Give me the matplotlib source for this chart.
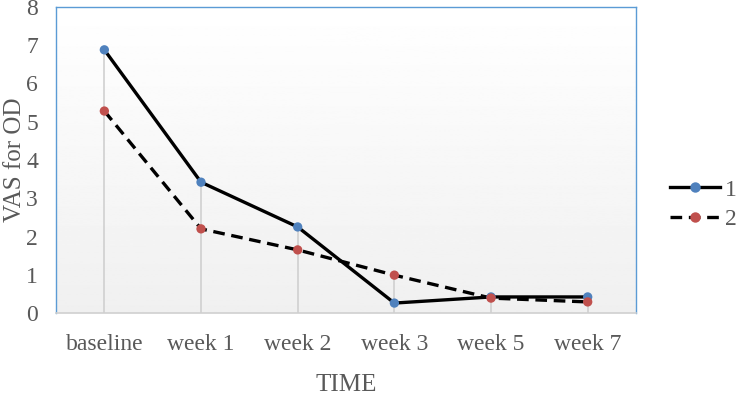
import numpy as np
import matplotlib.pyplot as plt
from matplotlib.lines import Line2D

plt.rcParams['font.family'] = ['Liberation Serif', 'DejaVu Serif']

categories = ["baseline", "week 1", "week 2", "week 3", "week 5", "week 7"]
series1 = [6.88, 3.42, 2.25, 0.26, 0.42, 0.42]
series2 = [5.28, 2.20, 1.65, 0.99, 0.39, 0.29]
yticks = [0, 1, 2, 3, 4, 5, 6, 7, 8]

fig = plt.figure(figsize=(7.37, 3.99), dpi=100)
ax = fig.add_axes([0.076, 0.2155, 0.787, 0.767])

x = np.arange(len(categories))

# gradient background: white at top, light gray at bottom
grad = np.linspace(1.0, 0.94, 256).reshape(-1, 1)
ax.imshow(grad, cmap="gray", vmin=0, vmax=1, aspect="auto",
          extent=[0, 1, 0, 1], transform=ax.transAxes, zorder=0)

# drop lines from the higher point to the axis
tops = np.maximum(series1, series2)
ax.vlines(x, 0, tops, colors="#d0d0d0", linewidth=1.2, zorder=1)

ax.plot(x, series1, color="black", linewidth=2.4, zorder=3)
ax.plot(x, series2, color="black", linewidth=2.4, linestyle=(0, (3.5, 2)), zorder=3)
ax.scatter(x, series1, s=45, color="#4f81bd", zorder=4, edgecolors="none")
ax.scatter(x, series2, s=45, color="#c0504d", zorder=4, edgecolors="none")

ax.set_xlim(-0.5, len(categories) - 0.5)
ax.set_ylim(0, 8)
ax.set_xticks(x)
ax.set_xticklabels(categories)
ax.set_yticks(yticks)
ax.tick_params(axis="both", length=0, labelsize=17, colors="#595959")
ax.tick_params(axis="x", pad=15)
ax.tick_params(axis="y", pad=13)

for side in ["left", "top", "right"]:
    ax.spines[side].set_color("#5b9bd5")
    ax.spines[side].set_linewidth(1.0)
ax.spines["bottom"].set_color("#d0d0d0")
ax.spines["bottom"].set_linewidth(1.2)

ax.set_ylabel("VAS for OD", fontsize=18, color="#595959", labelpad=0)
ax.set_xlabel("TIME", fontsize=18, color="#595959", labelpad=14)

handles = [
    Line2D([0], [0], color="black", linewidth=2.4, marker="o", markersize=7.5,
           markerfacecolor="#4f81bd", markeredgecolor="none"),
    Line2D([0], [0], color="black", linewidth=2.4, linestyle=(0, (3.5, 2)), marker="o",
           markersize=7.5, markerfacecolor="#c0504d", markeredgecolor="none"),
]
leg = fig.legend(handles, ["1", "2"], loc="center left", bbox_to_anchor=(0.909, 0.487),
                 frameon=False, fontsize=17, handlelength=2.1, handletextpad=0.25,
                 labelspacing=0.35, borderpad=0, borderaxespad=0)
for t in leg.get_texts():
    t.set_color("#595959")

fig.savefig("out.png", dpi=100)
